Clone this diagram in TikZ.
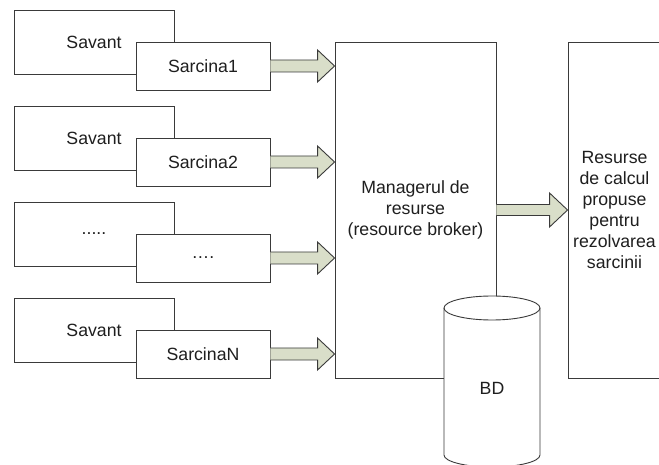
\documentclass[tikz,border=0pt]{standalone}
\usepackage{fontspec}
\setmainfont{Liberation Sans}
\usetikzlibrary{calc}
\definecolor{linegray}{HTML}{3A3A3A}
\definecolor{arrowfill}{HTML}{D9DEC9}
\newcommand\fatarrow[5]{% start, tip, shaft half, head half, head length
  \filldraw[fatarr] ($(#1)+(0,#3)$) -- ($(#2)+(-#5,#3)$) -- ($(#2)+(-#5,#4)$) -- (#2)
    -- ($(#2)+(-#5,-#4)$) -- ($(#2)+(-#5,-#3)$) -- ($(#1)+(0,-#3)$);}
\begin{document}
\begin{tikzpicture}[x=1pt,y=1pt,
  txt/.style={font=\fontsize{17.7}{21}\selectfont,text=black!88},
  box/.style={draw=linegray,line width=0.9pt,fill=white,inner sep=0pt,txt,align=center},
  savantbox/.style={box,minimum width=160pt,minimum height=64pt},
  taskbox/.style={box,minimum width=134pt,minimum height=48pt},
  fatarr/.style={draw=linegray,line width=0.9pt,fill=arrowfill,line join=miter}]
\useasboundingbox (0,0) rectangle (659,464);
% scientists
\node[savantbox] (v1) at (94,422) {Savant};
\node[savantbox] (v2) at (94,326) {Savant};
\node[savantbox] (v3) at (94,230) {.....};
\node[savantbox] (v4) at (94,134) {Savant};
% tasks
\node[taskbox] (c1) at (203,398) {Sarcina1};
\node[taskbox] (c2) at (203,302) {Sarcina2};
\node[taskbox] (c3) at (203,206) {….};
\node[taskbox] (c4) at (203,110) {SarcinaN};
% manager and resources
\node[box,minimum width=161pt,minimum height=336pt] (m) at (415.5,254)
  {Managerul de\\resurse\\(resource broker)};
\node[box,minimum width=93pt,minimum height=336pt] (r) at (614.5,254)
  {Resurse\\ de calcul\\propuse\\pentru\\rezolvarea\\sarcinii};
% arrows
\foreach \i in {1,2,3,4}{
  \coordinate (t\i) at (m.west |- c\i.east);
  \fatarrow{c\i.east}{t\i}{6}{16}{17}
}
\coordinate (tr) at (r.west |- m.east);
\fatarrow{m.east}{tr}{5.5}{17}{18}
% database cylinder
\filldraw[draw=linegray,line width=0.9pt,fill=white]
  (444,156) -- (444,9) arc[start angle=180,end angle=360,x radius=48,y radius=12]
  -- (540,156) arc[start angle=0,end angle=180,x radius=48,y radius=12] -- cycle;
\draw[draw=linegray,line width=0.9pt] (444,156) arc[start angle=180,end angle=360,x radius=48,y radius=12];
\node[txt] (bd) at (492,76) {BD};
\end{tikzpicture}
\end{document}
